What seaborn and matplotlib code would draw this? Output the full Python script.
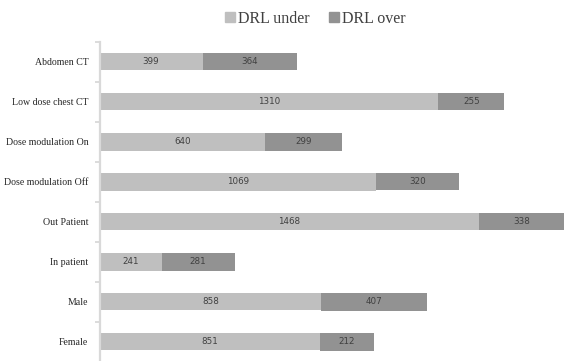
import matplotlib
matplotlib.use("Agg")
import matplotlib.pyplot as plt
from matplotlib.lines import Line2D
import seaborn as sns
import pandas as pd
import numpy as np

categories = ["Abdomen CT", "Low dose chest CT", "Dose modulation On", "Dose modulation Off",
              "Out Patient", "In patient", "Male", "Female"]
drl_under = [399, 1310, 640, 1069, 1468, 241, 858, 851]
drl_over = [364, 255, 299, 320, 338, 281, 407, 212]
series_names = ["DRL under", "DRL over"]

c_under = "#bfbfbf"
c_over = "#929292"

sns.set_theme(style="white")
plt.rcParams['font.family'] = ['Liberation Serif', 'DejaVu Serif']

fig = plt.figure(figsize=(5.64, 3.61), dpi=100)
ax = fig.add_axes([99.5/564, -0.7/361, 464.5/564, 320.0/361])

df = pd.DataFrame({"cat": categories, "under": drl_under, "over": drl_over})
bar_h = 0.44
sns.barplot(data=df, x="under", y="cat", orient="h", color=c_under, width=bar_h,
            saturation=1, ax=ax, zorder=2, linewidth=0, edgecolor="none")
ax.barh(np.arange(len(categories)), df["over"], left=df["under"], height=bar_h,
        color=c_over, zorder=2, linewidth=0)

for cont, vals in zip(ax.containers, [drl_under, drl_over]):
    ax.bar_label(cont, labels=[str(v) for v in vals], label_type="center",
                 fontsize=6.3, color="#404040", family="DejaVu Sans")

ax.set_xlim(0, 464.5/0.2587)
ax.set_ylim(len(categories)-0.5, -0.5)
ax.set_xlabel("")
ax.set_ylabel("")
ax.set_xticks([])
ax.set_yticks(np.arange(len(categories)))
ax.set_yticklabels(categories, fontsize=7.1, color="#262626")
ax.set_yticks(np.arange(-0.5, len(categories), 1), minor=True)
ax.tick_params(axis="y", which="major", length=0, pad=8)
ax.tick_params(axis="y", which="minor", length=3.5, width=1.3, color="#d9d9d9", left=True)
for s in ["top", "right", "bottom"]:
    ax.spines[s].set_visible(False)
ax.spines["left"].set_color("#d9d9d9")
ax.spines["left"].set_linewidth(1.6)

handles = [Line2D([], [], marker="s", linestyle="none", markersize=6.5,
                  markerfacecolor=c, markeredgecolor=c) for c in (c_under, c_over)]
fig.legend(handles, series_names, loc="center", bbox_to_anchor=(314/564, 1-19/361),
           ncol=2, frameon=False, fontsize=11.5, handletextpad=0.0, columnspacing=1.0,
           handlelength=1.0, labelcolor="#404040")

fig.savefig("out.png", dpi=100)
